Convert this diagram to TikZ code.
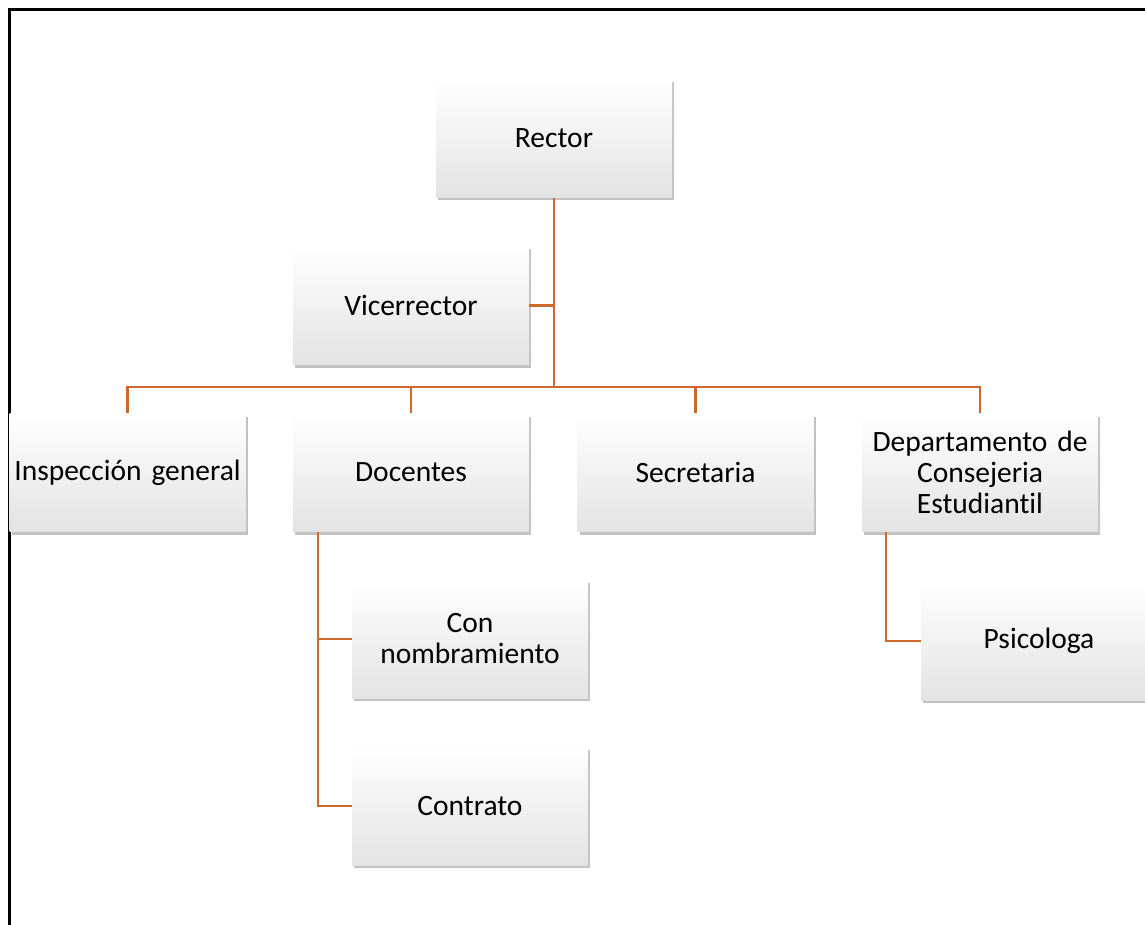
\documentclass[tikz,border=0pt]{standalone}
\usepackage{fontspec}
\setmainfont{Carlito}[Ligatures=NoCommon]
\usepackage{tikz}
\usetikzlibrary{shadows,calc}

\definecolor{ramacolor}{RGB}{205,105,45}

\begin{document}
\begin{tikzpicture}[x=1pt,y=-1pt,
  cargo/.style={rectangle,minimum width=236pt,minimum height=118pt,inner sep=1pt,
    align=center,text width=234pt,font=\fontsize{29.5}{31}\selectfont,
    top color=white,middle color=white,bottom color=black!11,
    drop shadow={shadow xshift=2pt,shadow yshift=-3pt,opacity=0.4,fill=black!60}},
  rama/.style={draw=ramacolor,line width=2.2pt}]
  \useasboundingbox (0,0) rectangle (1145,925);
  \draw[line width=3pt] (9,926) -- (9,10) -- (1146,10);

  \node[cargo] (rector) at (554,138.5){Rector};
  \node[cargo] (vice) at (411,305.5){Vicerrector};
  \node[cargo] (insp) at (127.5,472.5){Inspección general};
  \node[cargo] (doc) at (411,472.5){Docentes};
  \node[cargo] (sec) at (695.5,472.5){Secretaria};
  \node[cargo] (dep) at (980,472.5){Departamento de\\Consejeria\\Estudiantil};
  \node[cargo] (connom) at (470,639){Con\\nombramiento};
  \node[cargo] (contrato) at (470,806){Contrato};
  \node[cargo] (psico) at (1039,641){Psicologa};

  \coordinate (bus) at (554,387);
  \draw[rama] (rector.south) -- (bus);
  \draw[rama] (vice.east) -- (vice.east -| bus);
  \foreach \n in {insp,doc,sec,dep}
    \draw[rama] (\n.north) |- (bus);
  \draw[rama] ([xshift=25pt]doc.south west) |- (connom.west);
  \draw[rama] ([xshift=25pt]doc.south west) |- (contrato.west);
  \draw[rama] ([xshift=24pt]dep.south west) |- (psico.west);
\end{tikzpicture}
\end{document}
